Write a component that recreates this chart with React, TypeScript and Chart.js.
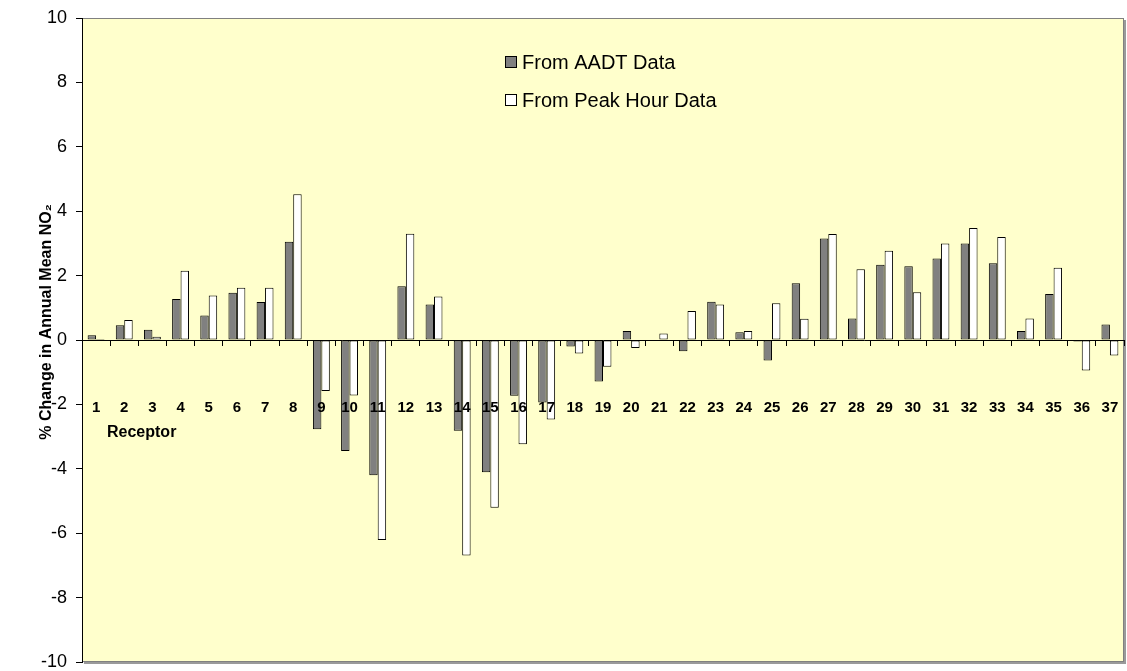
import React, { useEffect, useRef } from "react";
import { Chart, registerables } from "chart.js";

Chart.register(...registerables);

const receptors: string[] = [
  "1", "2", "3", "4", "5", "6", "7", "8", "9", "10", "11", "12", "13", "14", "15", "16", "17", "18", "19",
  "20", "21", "22", "23", "24", "25", "26", "27", "28", "29", "30", "31", "32", "33", "34", "35", "36", "37",
];

const aadtValues: number[] = [
  0.15, 0.46, 0.32, 1.27, 0.76, 1.47, 1.18, 3.05, -2.77, -3.45, -4.2, 1.67, 1.1, -2.82, -4.11, -1.73, -1.94,
  -0.2, -1.29, 0.28, 0, -0.35, 1.19, 0.24, -0.64, 1.76, 3.15, 0.67, 2.34, 2.29, 2.53, 3.0, 2.38, 0.28, 1.43,
  -0.05, 0.48,
];

const peakValues: number[] = [
  0.03, 0.62, 0.1, 2.15, 1.38, 1.62, 1.62, 4.53, -1.58, -1.72, -6.21, 3.3, 1.35, -6.69, -5.21, -3.24, -2.47,
  -0.42, -0.83, -0.25, 0.2, 0.9, 1.1, 0.28, 1.14, 0.66, 3.29, 2.2, 2.77, 1.48, 3.0, 3.48, 3.2, 0.67, 2.24,
  -0.95, -0.48,
];

const seriesLabels: string[] = ["From AADT Data", "From Peak Hour Data"];
const yMin = -10;
const yMax = 10;
const yStep = 2;
const yTitle = "% Change in Annual Mean NO\u2082";
const xTitle = "Receptor";

const FONT = "'Liberation Sans', Arial, Helvetica, sans-serif";

const plotBackground = {
  id: "plotBackground",
  beforeDraw(chart: any) {
    const { ctx, chartArea } = chart;
    const { left, top, right, bottom } = chartArea;
    ctx.save();
    ctx.fillStyle = "#FFFFCC";
    ctx.fillRect(left, top, right - left, bottom - top);
    ctx.strokeStyle = "#808080";
    ctx.lineWidth = 1;
    ctx.strokeRect(left + 0.5, top + 0.5, right - left - 1, bottom - top - 1);
    ctx.strokeStyle = "#9a9a9a";
    ctx.lineWidth = 2;
    ctx.beginPath();
    ctx.moveTo(left + 2, bottom + 1);
    ctx.lineTo(right + 1, bottom + 1);
    ctx.lineTo(right + 1, top + 2);
    ctx.stroke();
    ctx.restore();
  },
};

const innerTexts = {
  id: "innerTexts",
  afterDraw(chart: any) {
    const { ctx, chartArea } = chart;
    const yScale = chart.scales.y;
    ctx.save();
    ctx.fillStyle = "#000";
    ctx.textBaseline = "middle";

    // y axis title
    ctx.save();
    ctx.font = `bold 16px ${FONT}`;
    ctx.textAlign = "center";
    ctx.translate(47, (chartArea.top + chartArea.bottom) / 2 - 18);
    ctx.rotate(-Math.PI / 2);
    ctx.fillText(yTitle, 0, 0);
    ctx.restore();

    // x axis title, inside the plot
    ctx.font = `bold 16px ${FONT}`;
    ctx.textAlign = "left";
    ctx.fillText(xTitle, chartArea.left + 25, yScale.getPixelForValue(0) + 93);

    // legend
    const lx = chartArea.left + 423;
    const ly = chartArea.top + 44;
    const gap = 38;
    ctx.font = `20px ${FONT}`;
    chart.data.datasets.forEach((ds: any, i: number) => {
      const cy = ly + i * gap;
      ctx.fillStyle = ds.backgroundColor;
      ctx.fillRect(lx, cy - 6, 12, 12);
      ctx.strokeStyle = "#000";
      ctx.lineWidth = 1;
      ctx.strokeRect(lx + 0.5, cy - 5.5, 11, 11);
      ctx.fillStyle = "#000";
      ctx.fillText(ds.label, lx + 17, cy + 1);
    });
    ctx.restore();
  },
};

export default function App() {
  const canvasRef = useRef<HTMLCanvasElement | null>(null);

  useEffect(() => {
    if (!canvasRef.current) return;
    const chart = new Chart(canvasRef.current, {
      type: "bar",
      data: {
        labels: receptors,
        datasets: [
          {
            label: seriesLabels[0],
            data: aadtValues,
            backgroundColor: "#808080",
            borderColor: "#000000",
            borderWidth: 1,
            borderSkipped: false,
            categoryPercentage: 0.6,
            barPercentage: 1.0,
          },
          {
            label: seriesLabels[1],
            data: peakValues,
            backgroundColor: "#FFFFFF",
            borderColor: "#000000",
            borderWidth: 1,
            borderSkipped: false,
            categoryPercentage: 0.6,
            barPercentage: 1.0,
          },
        ],
      },
      options: {
        animation: false,
        responsive: false,
        maintainAspectRatio: false,
        layout: { padding: { top: 18, right: 3, bottom: 9, left: 0 } },
        plugins: {
          legend: { display: false },
          tooltip: { enabled: false },
        },
        scales: {
          x: {
            position: { y: 0 } as any,
            offset: true,
            afterFit(scale: any) {
              scale.paddingLeft = 0;
              scale.paddingRight = 0;
            },
            grid: {
              offset: true,
              drawOnChartArea: false,
              drawTicks: true,
              tickLength: 5,
              tickColor: "#000",
            },
            border: { display: true, color: "#000", width: 1, z: 1 },
            ticks: {
              z: 2,
              color: "#000",
              font: { family: FONT, size: 15, weight: "bold" },
              padding: 54,
              maxRotation: 0,
              autoSkip: false,
            },
          },
          y: {
            min: yMin,
            max: yMax,
            afterFit(scale: any) {
              scale.width = 82;
              scale.paddingTop = 0;
              scale.paddingBottom = 0;
            },
            ticks: {
              stepSize: yStep,
              color: "#000",
              font: { family: FONT, size: 18 },
              padding: 9,
            },
            grid: {
              drawOnChartArea: false,
              drawTicks: true,
              tickLength: 6,
              tickColor: "#000",
            },
            border: { display: true, color: "#000", width: 1 },
            title: { display: false },
          },
        },
      },
      plugins: [plotBackground, innerTexts],
    });
    return () => chart.destroy();
  }, []);

  return (
    <div style={{ position: "fixed", left: 0, top: 0, width: 1127, height: 671, background: "#fff" }}>
      <canvas ref={canvasRef} width={1127} height={671} style={{ width: 1127, height: 671 }} />
    </div>
  );
}
